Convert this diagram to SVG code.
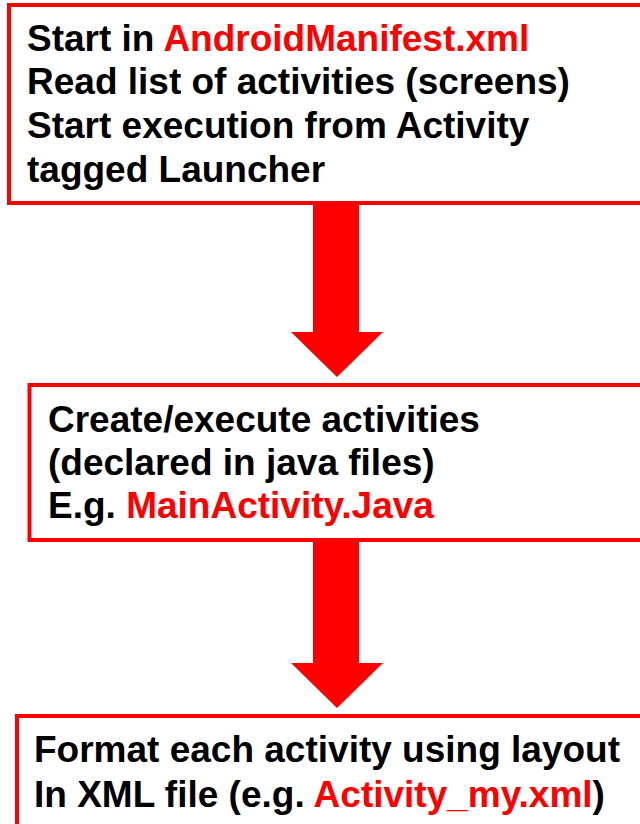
<svg xmlns="http://www.w3.org/2000/svg" width="640" height="824" viewBox="0 0 640 824">
<style>
.box{fill:#fff;stroke:#ff0000;stroke-width:4}
.t{font-family:"Liberation Sans",Arial,sans-serif;font-weight:bold;font-size:37px;fill:#000}
.r{fill:#ff0000}
.arrow{fill:#ff0000;stroke:none}
</style>
<rect width="640" height="824" fill="#fff"/>
<g id="connectors">
<polygon class="arrow" points="313,203 359,203 359,332 383,332 337,377 291,332 313,332"/>
<polygon class="arrow" points="313,540 359,540 359,663 383,663 337,708 291,663 313,663"/>
</g>
<g id="node1">
<rect class="box" x="9" y="5" width="660" height="198"/>
<text class="t" x="27" y="51">Start in <tspan class="r">AndroidManifest.xml</tspan></text>
<text class="t" x="27" y="94">Read list of activities (screens)</text>
<text class="t" x="27" y="138">Start execution from Activity</text>
<text class="t" x="27" y="182">tagged Launcher</text>
</g>
<g id="node2">
<rect class="box" x="29.5" y="385" width="660" height="155"/>
<text class="t" x="48" y="431.5">Create/execute activities</text>
<text class="t" x="48" y="474.5">(declared in java files)</text>
<text class="t" x="48" y="518">E.g. <tspan class="r">MainActivity.Java</tspan></text>
</g>
<g id="node3">
<rect class="box" x="17" y="716" width="660" height="140"/>
<text class="t" x="34" y="762">Format each activity using layout</text>
<text class="t" x="34" y="807">In XML file (e.g. <tspan class="r">Activity_my.xml</tspan>)</text>
</g>
</svg>
